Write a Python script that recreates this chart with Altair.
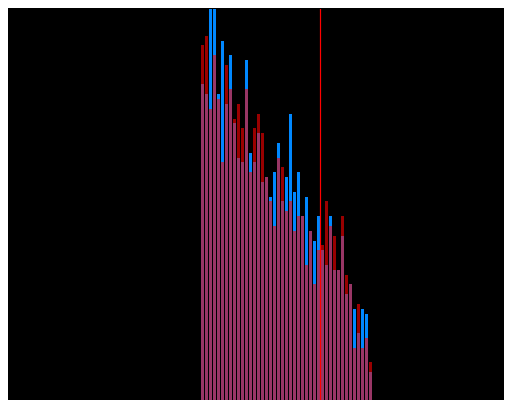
import altair as alt
import pandas as pd

# bin index (left edge) of each bar
bin_start = list(range(43))
# bar heights (counts, arbitrary units)
blue_counts = [79.25, 76.75, 100, 98.75, 76.75, 90, 74.25, 86.5, 69.5, 60.75,
               59.75, 85.25, 62, 59.75, 67, 54.75, 56, 51, 57.25, 64.5,
               50, 56, 71.75, 52.25, 57.25, 46.25, 51, 42.5, 40, 46.25,
               37.75, 34, 46.25, 32.75, 32.75, 41.25, 26.75, 29.25, 23, 17,
               23, 21.75, 7.25]
red_counts = [89, 91.25, 73, 86.5, 75.5, 59.75, 84, 78, 70.5, 74.25,
              68.25, 78, 57.25, 68.25, 71.75, 67, 56, 50, 43.75, 60.75,
              58.5, 47.5, 50, 42.5, 46.25, 46.25, 34, 42.5, 29.25, 37.75,
              39, 50, 43.75, 41.25, 32.75, 46.25, 31.5, 29.25, 13.25, 24.25,
              13.25, 15.75, 9.75]
line_x = [30.125]

df = pd.DataFrame({
    "start": bin_start,
    "end": [s + 1 for s in bin_start],
    "blue": blue_counts,
    "red": red_counts,
})
line_df = pd.DataFrame({"x": line_x})

xscale = alt.Scale(domain=[-48, 76], nice=False, zero=False)
yscale = alt.Scale(domain=[0, 98], nice=False, zero=False)

base = alt.Chart(df)
blue = base.mark_bar(color="#0088ff", clip=True).encode(
    x=alt.X("start:Q", bin="binned", scale=xscale, axis=None),
    x2="end:Q",
    y=alt.Y("blue:Q", scale=yscale, axis=None),
)
red = base.mark_bar(color="#ff0000", opacity=0.6, clip=True).encode(
    x=alt.X("start:Q", bin="binned", scale=xscale, axis=None),
    x2="end:Q",
    y=alt.Y("red:Q", scale=yscale, axis=None),
)
vline = alt.Chart(line_df).mark_rule(color="#ff0000", strokeWidth=1.2).encode(
    x=alt.X("x:Q", scale=xscale, axis=None),
)

chart = alt.layer(blue, red, vline).properties(
    width=496, height=392, background="#000000", padding=0
).configure_view(stroke=None, fill="#000000")

chart.save("out.html", embed_options={"renderer": "svg", "actions": False})
